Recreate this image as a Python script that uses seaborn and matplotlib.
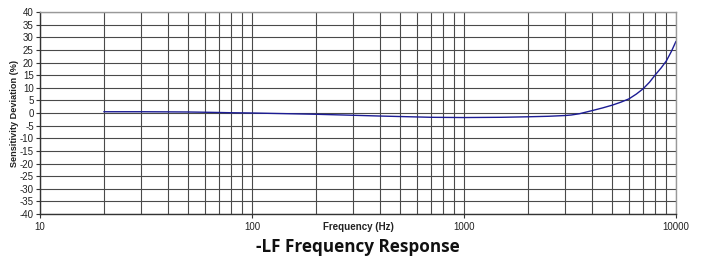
import matplotlib
matplotlib.use("Agg")
import matplotlib.pyplot as plt
import seaborn as sns
import pandas as pd
from matplotlib.ticker import FixedLocator, NullFormatter

freq = [20, 30, 40, 50, 60, 70, 80, 90, 100, 200, 300, 400, 500, 700, 1000,
        1500, 2000, 2500, 3000, 3200, 3500, 4000, 4500, 5000, 5500, 6000, 6500,
        7000, 7500, 8000, 8500, 9000, 9500, 10000]
deviation = [0.5, 0.5, 0.45, 0.4, 0.3, 0.2, 0.1, 0.05, 0.0, -0.5, -0.9, -1.2, -1.4, -1.7, -1.8,
             -1.7, -1.5, -1.3, -1.0, -0.8, -0.3, 0.9, 2.0, 3.1, 4.3, 5.6, 7.5,
             9.6, 12.2, 15.2, 17.8, 20.6, 24.3, 28.4]
y_ticks = list(range(-40, 45, 5))
x_major = [10, 100, 1000, 10000]
x_labels = ["10", "100", "1000", "10000"]

df = pd.DataFrame({"Frequency (Hz)": freq, "Sensitivity Deviation (%)": deviation})

sns.set_style("white")
plt.rcParams['font.family'] = ['Liberation Sans', 'DejaVu Sans']

fig = plt.figure(figsize=(7.01, 2.58), dpi=100)
ax = fig.add_axes([40/701, 1-214/258, (676-40)/701, (214-12)/258])

sns.lineplot(data=df, x="Frequency (Hz)", y="Sensitivity Deviation (%)", ax=ax,
             color="#1c1c94", linewidth=1.0)
ax.set_xscale("log")
ax.set_xlim(10, 10000)
ax.set_ylim(-40, 40)

minor = [m * d for d in [10, 100, 1000] for m in range(2, 10)]
ax.xaxis.set_major_locator(FixedLocator(x_major))
ax.xaxis.set_minor_locator(FixedLocator(minor))
ax.xaxis.set_minor_formatter(NullFormatter())
ax.set_xticklabels(x_labels)
ax.set_yticks(y_ticks)
ax.set_yticklabels([str(v) for v in y_ticks])

ax.grid(True, which="both", axis="x", color="#4a4a4a", linewidth=0.8)
ax.grid(True, which="major", axis="y", color="#4a4a4a", linewidth=0.8)
ax.set_axisbelow(True)

ax.tick_params(axis="y", which="major", left=True, length=3, width=0.8, color="#333333",
               labelsize=7, pad=1.5, labelcolor="#222222")
ax.tick_params(axis="x", which="major", bottom=True, length=3, width=0.8, color="#333333",
               labelsize=7, pad=3, labelcolor="#222222")
ax.tick_params(axis="x", which="minor", bottom=False)

for s in ["left", "bottom"]:
    ax.spines[s].set_color("#333333")
    ax.spines[s].set_linewidth(1.0)
for s in ["top", "right"]:
    ax.spines[s].set_color("#999999")
    ax.spines[s].set_linewidth(1.0)

ax.set_xlabel("Frequency (Hz)", fontsize=7, fontweight="bold", color="#222222")
ax.xaxis.set_label_coords(318/636, -(227-214)/202)
ax.xaxis.label.set_va("center")
ax.set_ylabel("Sensitivity Deviation (%)", fontsize=6.6, fontweight="bold", color="#222222")
ax.yaxis.set_label_coords(-(40-19)/636, 0.5)

fig.text(358/701, 1-247/258, "-LF Frequency Response", ha="center", va="center",
         fontsize=12.3, fontweight="bold", family=["Open Sans", "DejaVu Sans"], color="#111111")

fig.savefig("out.png", dpi=100, facecolor="white")
